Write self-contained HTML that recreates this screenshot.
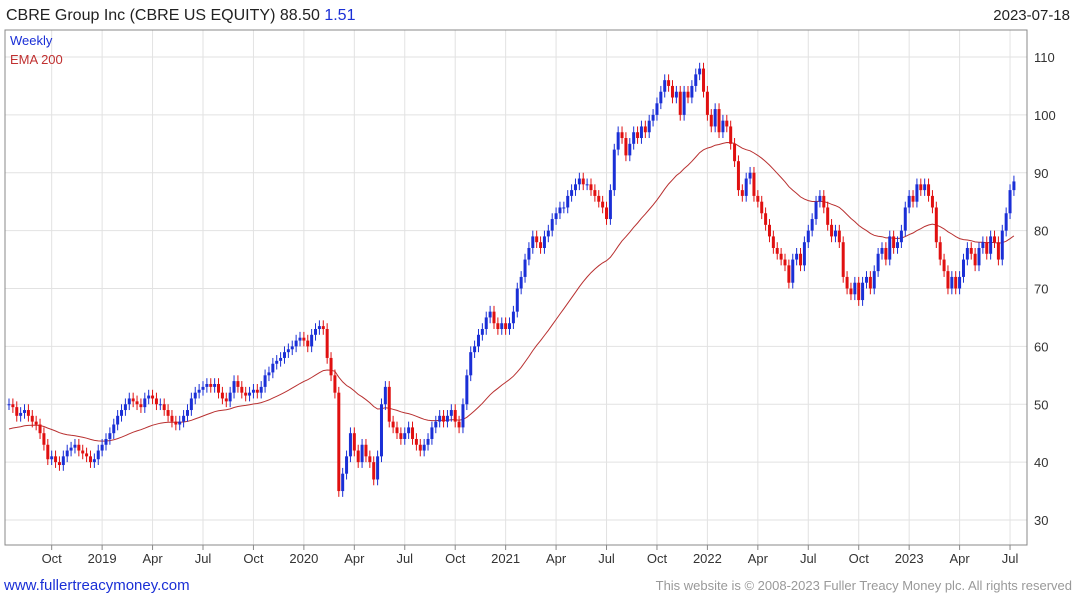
<!DOCTYPE html>
<html><head><meta charset="utf-8"><style>
body{margin:0;background:#fff;width:1075px;height:600px;overflow:hidden;font-family:"Liberation Sans",sans-serif}
svg{display:block}
</style></head><body>
<svg id="c" width="1075" height="600">
<text x="6" y="20" font-size="16" fill="#222">CBRE Group Inc (CBRE US EQUITY) 88.50 <tspan fill="#1a2fd6">1.51</tspan></text>
<text x="1070" y="20" font-size="15" fill="#222" text-anchor="end">2023-07-18</text>
<g id="grid"></g>
<g id="marks"></g>
<rect x="5" y="30" width="1022" height="515" fill="none" stroke="#888"/>
<text x="10" y="45" font-size="13" fill="#1a2fd6">Weekly</text>
<text x="10" y="64" font-size="13" fill="#c03030">EMA 200</text>
<text x="4" y="590" font-size="15" fill="#1a2fd6">www.fullertreacymoney.com</text>
<text x="1072" y="590" font-size="13" fill="#999" text-anchor="end">This website is © 2008-2023 Fuller Treacy Money plc. All rights reserved</text>
</svg>
<script>
const closes=[50,49.5,48,48.5,49,48,47,46.5,45,43,40.5,41,40,
39.5,41,42,42.5,43,42,41.5,41,40,40.5,42,43,44,
45,46.5,48,49,50,51,50.5,50,49.5,51,51.5,51,50,
50,49,48,47,46.5,47,48,49,51,52,52.5,53,53.5,
53,53.5,52,51,50.5,52,54,53,52,51.5,52,52.5,52,
53,55,55.5,57,57.5,58,59,59.5,60,61,61.5,61,60,
62,63,63.5,63,58,55,52,
35,38,41,45,42,40,43,41,40,37,41,50,53,47,46,45,44,45,46,44,43,42,43,44,46,47,48,47,48,49,47,46,50,55,59,60,62,63,65,66,64,63,64,63,64,66,70,72,75,77,79,78,77,79,80,82,83,84,84,86,87,88,89,88,88,87,86,85,84,82,87,94,97,96,93,95,97,96,98,97,99,100,102,104,106,105,103,104,100,104,103,105,107,108,104,100,98,101,97,99,98,95,92,87,86,89,90,86,85,83,81,79,77,76,75,74,71,75,76,74,78,80,82,85,86,84,81,79,80,78,72,70,69,71,68,71,72,70,73,76,77,75,79,77,78,80,84,86,85,88,87,88,86,84,78,75,73,70,72,70,72,75,77,76,74,77,78,76,79,78,75,80,83,87,88.5];
const yTicks=[30,40,50,60,70,80,90,100,110];
const xTickLabels=["Oct","2019","Apr","Jul","Oct","2020","Apr","Jul","Oct","2021","Apr","Jul","Oct","2022","Apr","Jul","Oct","2023","Apr","Jul"];
const xTickWeeks=[11,24,37,50,63,76,89,102,115,128,141,154,167,180,193,206,219,232,245,258];
const emaSeed=[45.5];
const NS="http://www.w3.org/2000/svg";
function Y(v){return 520-(v-30)*5.7875;}
function X(i){return 9+i*3.88;}
function mk(t,a,p){const e=document.createElementNS(NS,t);for(const k in a)e.setAttribute(k,a[k]);p.appendChild(e);return e;}
const grid=document.getElementById('grid'),marks=document.getElementById('marks');
yTicks.forEach(v=>{
 const l=mk('line',{x1:5,x2:1027,y1:Y(v),y2:Y(v),stroke:'#e2e2e2'},grid);
 
 
 const t=mk('text',{x:1034,y:Y(v)+5,'font-size':13,fill:'#333'},grid);t.textContent=v;
 
 
});
xTickWeeks.forEach((w,k)=>{
 const x=X(w);
 const l=mk('line',{x1:x,x2:x,y1:30,y2:545,stroke:'#e2e2e2'},grid);
 
 
 mk('line',{x1:x,x2:x,y1:545,y2:550,stroke:'#888'},grid);
 const t=mk('text',{x:x,y:563,'font-size':13,fill:'#333','text-anchor':'middle'},grid);t.textContent=xTickLabels[k];
 
 
});
let ema=emaSeed[0],pts=[];const a=2/41;
closes.forEach((c,i)=>{ema=ema+a*(c-ema);pts.push(X(i).toFixed(1)+','+Y(ema).toFixed(1));});
const el=mk('polyline',{points:pts.join(' '),fill:'none',stroke:'#b83030','stroke-width':1},marks);


closes.forEach((c,i)=>{
 const o=i?closes[i-1]:c;const up=c>=o;const col=up?'#1a2fd6':'#e01010';
 const hi=Math.max(o,c)+1,lo=Math.min(o,c)-1;const x=X(i);
 const g=mk('g',{},marks);
 
 
 mk('line',{x1:x,x2:x,y1:Y(hi),y2:Y(lo),stroke:col,'stroke-width':1},g);
 const top=Y(Math.max(o,c)),h=Math.max(1,Y(Math.min(o,c))-top);
 mk('rect',{x:x-1.5,y:top,width:3,height:h,fill:col},g);
});
</script>
</body></html>
